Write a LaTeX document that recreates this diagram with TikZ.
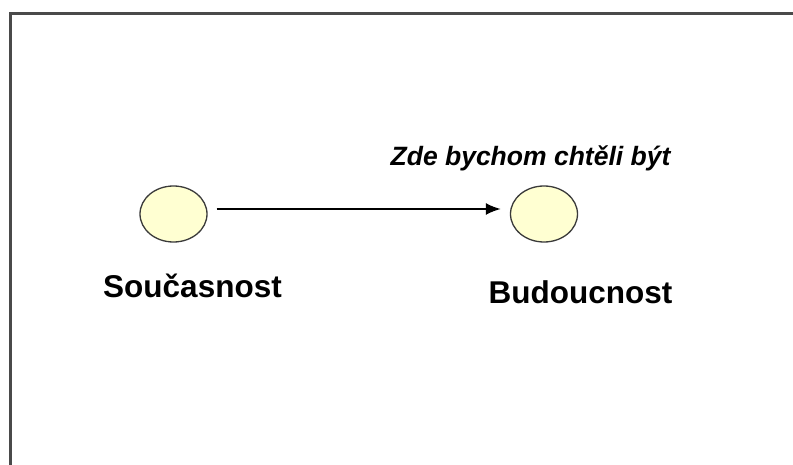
\documentclass[tikz,border=0pt]{standalone}
\usepackage{fontspec}
\setmainfont{Liberation Sans}
\usetikzlibrary{arrows.meta}
\definecolor{framegray}{HTML}{4A4A4A}
\definecolor{bubblefill}{HTML}{FFFFD2}
\definecolor{bubbleline}{HTML}{3A3A3A}
\tikzset{
  bubble/.style={ellipse, draw=bubbleline, line width=1.3pt, fill=bubblefill, minimum width=67pt, minimum height=56pt, inner sep=0pt},
  biglabel/.style={anchor=base, inner sep=0pt, font=\fontsize{31.5}{36}\selectfont\bfseries},
  toplabel/.style={anchor=base, inner sep=0pt, font=\fontsize{26.5}{30}\selectfont\bfseries\itshape},
  connector/.style={line width=2pt, -{Latex[length=15pt,width=12pt]}},
  frameline/.style={draw=framegray, line width=3pt}
}
\usetikzlibrary{shapes.geometric}
\begin{document}
\begin{tikzpicture}[x=1pt,y=-1pt]
\useasboundingbox (0,0) rectangle (793,465);
\fill[white] (0,0) rectangle (793,465);
\coordinate (fbl) at (10.5,470);
\coordinate (ftl) at (10.5,13.5);
\coordinate (ftr) at (800,13.5);
\draw[frameline] (fbl) -- (ftl) -- (ftr);
\node[bubble] (a) at (173.5,214) {};
\node[bubble] (b) at (544,214) {};
\draw[connector] ([xshift=9pt,yshift=5pt]a.east) -- ([xshift=-9pt,yshift=5pt]b.west);
\node[toplabel] (t) at (530.5,166) {Zde bychom chtěli být};
\node[biglabel] (s) at (192.5,298) {Současnost};
\node[biglabel] (f) at (580.5,304) {Budoucnost};
\end{tikzpicture}
\end{document}
